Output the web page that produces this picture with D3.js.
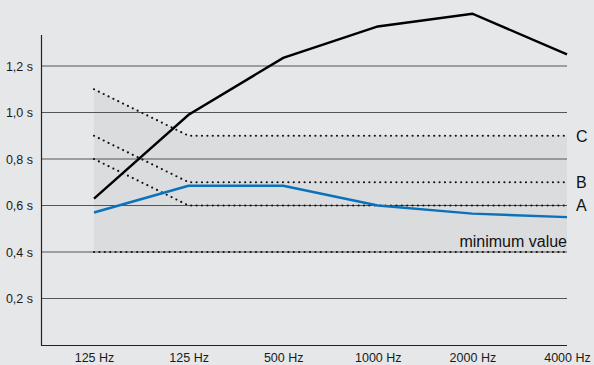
<!DOCTYPE html>
<html><head><meta charset="utf-8">
<script src="https://cdn.jsdelivr.net/npm/d3@7"></script>
<style>
html,body{margin:0;padding:0;background:#e6e7e9;}
svg{display:block;font-family:"Liberation Sans",Arial,sans-serif;}
</style></head>
<body>
<svg id="c" width="594" height="365"></svg>
<script>
const categories = ["125 Hz","125 Hz ","500 Hz","1000 Hz","2000 Hz","4000 Hz"];
const measured = [0.63, 0.99, 1.235, 1.37, 1.425, 1.25];
const blueSeries = [0.57, 0.685, 0.685, 0.60, 0.565, 0.55];
const lineC = [1.10, 0.90, 0.90, 0.90, 0.90, 0.90];
const lineB = [0.90, 0.70, 0.70, 0.70, 0.70, 0.70];
const lineA = [0.80, 0.60, 0.60, 0.60, 0.60, 0.60];
const minValue = [0.40, 0.40, 0.40, 0.40, 0.40, 0.40];
const yTicks = [0.2, 0.4, 0.6, 0.8, 1.0, 1.2];
const refLabels = ["C","B","A"];

const svg = d3.select("#c");
const x = d3.scalePoint().domain(categories).range([94, 567]);
const y = d3.scaleLinear().domain([0, 1]).range([345, 112.5]);

// shaded band
const band = categories.map((c,i)=>({c, lo:minValue[i], hi:lineC[i]}));
svg.append("path").datum(band)
  .attr("fill","#dbdcde")
  .attr("d", d3.area().x(d=>x(d.c)).y0(d=>y(d.lo)).y1(d=>y(d.hi)));

// gridlines
svg.append("g").selectAll("line").data(yTicks).join("line")
  .attr("x1",41).attr("x2",567).attr("y1",d=>y(d)).attr("y2",d=>y(d))
  .attr("stroke","#555").attr("stroke-width",1);

// y axis
const yAxis = d3.axisLeft(y).tickValues(yTicks).tickSize(0).tickPadding(8)
  .tickFormat(d=>d3.format(".1f")(d).replace(".",",")+" s");
const gy = svg.append("g").attr("transform","translate(41,0)").call(yAxis);
gy.select(".domain").remove();
gy.selectAll("text").attr("font-size",12.5).attr("fill","#1a1a1a").attr("font-family","Liberation Sans, Arial, sans-serif");
svg.append("line").attr("x1",41.5).attr("x2",41.5).attr("y1",35).attr("y2",345.5)
  .attr("stroke","#222").attr("stroke-width",1.2);

// x axis
const xAxis = d3.axisBottom(x).tickSize(0).tickPadding(8);
const gx = svg.append("g").attr("transform","translate(0,345)").call(xAxis);
gx.select(".domain").remove();
gx.selectAll("text").attr("font-size",12.5).attr("fill","#1a1a1a").attr("font-family","Liberation Sans, Arial, sans-serif");
svg.append("line").attr("x1",41).attr("x2",567).attr("y1",345.5).attr("y2",345.5)
  .attr("stroke","#222").attr("stroke-width",1.2);

const line = d3.line().x((d,i)=>x(categories[i])).y(d=>y(d));

// dotted reference lines
[lineC, lineB, lineA, minValue].forEach(arr=>{
  svg.append("path").datum(arr).attr("d", line).attr("fill","none")
    .attr("stroke","#111").attr("stroke-width",2.2)
    .attr("stroke-linecap","round").attr("stroke-dasharray","0,5.4");
});

// blue line
svg.append("path").datum(blueSeries).attr("d", line).attr("fill","none")
  .attr("stroke","#0a72bb").attr("stroke-width",2.4).attr("stroke-linejoin","round");
// black line
svg.append("path").datum(measured).attr("d", line).attr("fill","none")
  .attr("stroke","#000").attr("stroke-width",2.4).attr("stroke-linejoin","miter");

// labels C B A
[lineC, lineB, lineA].forEach((arr,i)=>{
  svg.append("text").attr("x",576).attr("y",y(arr[arr.length-1])).attr("dy","0.36em")
    .attr("font-size",16).attr("fill","#111").text(refLabels[i]);
});
svg.append("text").attr("x",567).attr("y",y(0.4)-5).attr("text-anchor","end")
  .attr("font-size",16).attr("fill","#111").text("minimum value");
</script>
</body></html>
